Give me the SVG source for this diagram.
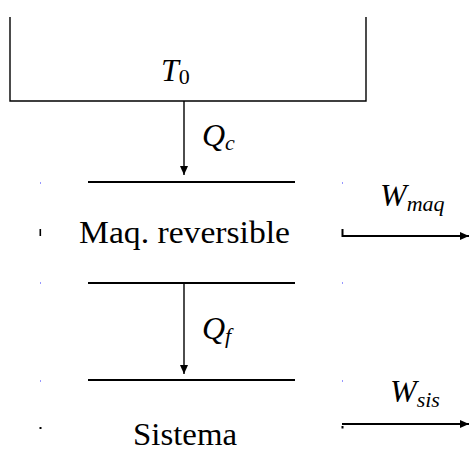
<svg xmlns="http://www.w3.org/2000/svg" width="469" height="474" viewBox="0 0 469 474">
<style>
.ln{stroke:#000;fill:none}
.thin{stroke-width:1.4}
.thick{stroke-width:2}
.txt{font-family:'Liberation Serif','DejaVu Serif',serif;font-size:32px;fill:#000}
.mi{font-family:'Liberation Serif','DejaVu Serif',serif;font-style:italic;font-size:32px;fill:#000}
.sub{font-size:22px}
.up{font-style:normal}
.bd{fill:#3030ff}
</style>
<defs>
<marker id="ah" markerWidth="9" markerHeight="8" refX="9" refY="4" orient="auto" markerUnits="userSpaceOnUse">
<path d="M0,0 L9,4 L0,8 Z" fill="#000"/>
</marker>
</defs>
<rect width="469" height="474" fill="#fff"/>
<g id="reservoir">
<path class="ln thin" d="M10,17 V101 H366 V17"/>
<text class="mi" x="161" y="81">T<tspan class="sub up" dy="3">0</tspan></text>
</g>
<g id="maquina">
<line class="ln thick" x1="88" y1="182" x2="295" y2="182"/>
<line class="ln thick" x1="88" y1="283" x2="295" y2="283"/>
<text class="txt" x="184.5" y="243" text-anchor="middle" textLength="211" lengthAdjust="spacingAndGlyphs">Maq. reversible</text>
<rect class="bd" x="40" y="182.5" width="1" height="1"/>
<rect class="bd" x="342" y="182.5" width="1" height="1"/>
<rect class="bd" x="40" y="282.5" width="1" height="1"/>
<rect class="bd" x="342" y="282.5" width="1" height="1"/>
<rect x="39.5" y="229" width="1.6" height="7" fill="#000"/>
</g>
<g id="sistema">
<line class="ln thick" x1="88" y1="380" x2="295" y2="380"/>
<text class="txt" x="185" y="445" text-anchor="middle" textLength="104" lengthAdjust="spacingAndGlyphs">Sistema</text>
<rect class="bd" x="40" y="380.5" width="1" height="1"/>
<rect class="bd" x="342" y="380.5" width="1" height="1"/>
<rect x="39.5" y="427" width="2" height="2" fill="#000"/>
</g>
<g id="connectors">
<line class="ln thin" x1="184" y1="101" x2="184" y2="175" marker-end="url(#ah)"/>
<text class="mi" x="202" y="146">Q<tspan class="sub" dy="4">c</tspan></text>
<line class="ln thin" x1="184" y1="283" x2="184" y2="374" marker-end="url(#ah)"/>
<text class="mi" x="202" y="339">Q<tspan class="sub" dy="4">f</tspan></text>
<path class="ln thick" d="M342.5,229 V236 H469" marker-end="url(#ah)"/>
<text class="mi" x="380" y="206">W<tspan class="sub" dy="5">maq</tspan></text>
<rect x="341.5" y="426" width="2" height="2.5" fill="#000"/>
<line class="ln thick" x1="342" y1="424" x2="469" y2="424" marker-end="url(#ah)"/>
<text class="mi" x="390" y="402">W<tspan class="sub" dy="5">sis</tspan></text>
</g>
</svg>
